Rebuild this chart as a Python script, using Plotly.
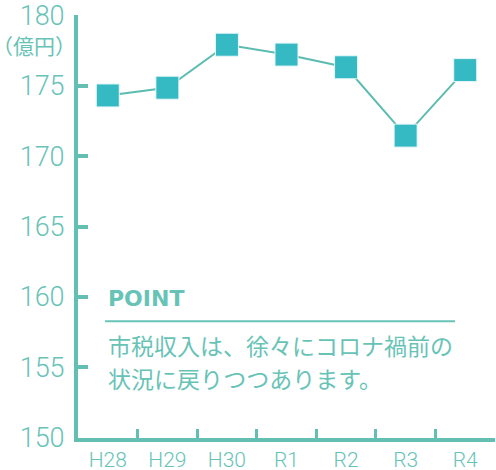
import plotly.graph_objects as go

categories = ["H28", "H29", "H30", "R1", "R2", "R3", "R4"]
revenue = [174.3, 174.85, 177.9, 177.2, 176.3, 171.45, 176.1]
y_ticks = [150, 155, 160, 165, 170, 175, 180]

AXIS = "#64bfb3"
TEXT = "#68c3b7"
MARK = "#35b9c3"
LINE = "#5cbcb0"

fig = go.Figure()
fig.add_trace(go.Scatter(
    x=categories, y=revenue, mode="lines+markers",
    line=dict(color=LINE, width=2),
    marker=dict(symbol="square", size=23, color=MARK, line=dict(color="#e8f7f8", width=1)),
    cliponaxis=False, hoverinfo="skip", showlegend=False,
))

fig.update_layout(
    width=496, height=470,
    margin=dict(l=78, r=1, t=15, b=32),
    paper_bgcolor="white", plot_bgcolor="white",
    font=dict(family="Roboto", color=TEXT),
    xaxis=dict(
        type="category", range=[-0.5, 6.5], automargin=False,
        showgrid=False, zeroline=False,
        showline=True, linecolor=AXIS, linewidth=4,
        ticks="inside", tickson="boundaries", ticklen=9, tickwidth=3, tickcolor=AXIS,
        tickfont=dict(family="Roboto", size=21, color=TEXT, weight=300),
        ticklabelstandoff=0,
    ),
    yaxis=dict(
        range=[149.99, 180.01], tickvals=y_ticks, automargin=False,
        showgrid=False, zeroline=False,
        showline=True, linecolor=AXIS, linewidth=4,
        ticks="inside", ticklen=10, tickwidth=4, tickcolor=AXIS,
        tickfont=dict(family="Roboto", size=27, color=TEXT, weight=300),
        ticklabelstandoff=4, ticklabeloverflow="allow",
    ),
)

fig.add_annotation(
    text="（億円）", xref="paper", yref="paper", x=0.0, y=0.929,
    xanchor="right", yanchor="middle", showarrow=False,
    font=dict(family="Noto Sans CJK JP", size=21, color=TEXT),
)
fig.add_annotation(
    text="<b>POINT</b>", xref="paper", yref="paper", x=0.066, y=0.33,
    xanchor="left", yanchor="middle", showarrow=False,
    font=dict(family="DejaVu Sans", size=22, color=TEXT),
)
fig.add_shape(
    type="line", xref="paper", yref="paper", x0=0.065, x1=0.904, y0=0.276, y1=0.276,
    line=dict(color=TEXT, width=2),
)
fig.add_annotation(
    text="市税収入は、徐々にコロナ禍前の", xref="paper", yref="paper", x=0.066, y=0.219,
    xanchor="left", yanchor="middle", showarrow=False,
    font=dict(family="Noto Sans CJK JP", size=23, color=TEXT),
)
fig.add_annotation(
    text="状況に戻りつつあります。", xref="paper", yref="paper", x=0.066, y=0.141,
    xanchor="left", yanchor="middle", showarrow=False,
    font=dict(family="Noto Sans CJK JP", size=23, color=TEXT),
)

fig.write_html(
    "out.html",
    config={"displayModeBar": False},
    post_script="document.body.style.margin='0';document.body.style.overflow='hidden';",
)
